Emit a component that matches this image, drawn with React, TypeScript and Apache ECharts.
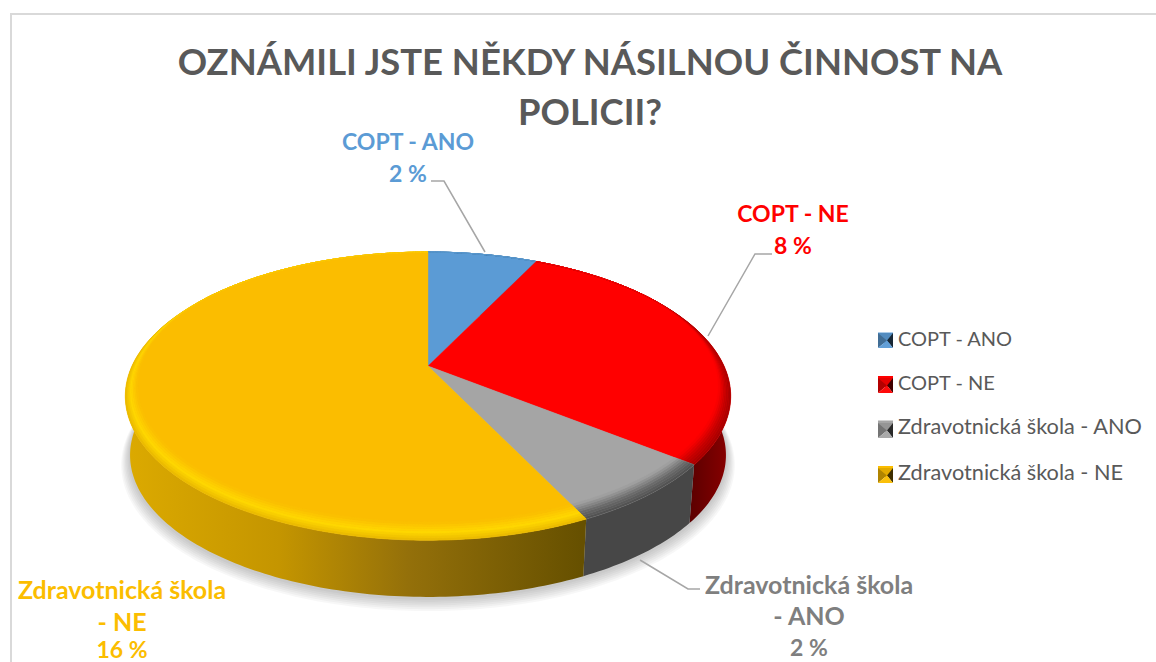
import React, { useEffect, useRef } from "react";
import * as echarts from "echarts";

const titleLines = ["OZNÁMILI JSTE NĚKDY NÁSILNOU ČINNOST NA", "POLICII?"];
const categories = ["COPT - ANO", "COPT - NE", "Zdravotnická škola - ANO", "Zdravotnická škola - NE"];
const percentValues = [2, 8, 2, 16];
const labelLines = [["COPT - ANO"], ["COPT - NE"], ["Zdravotnická škola", "- ANO"], ["Zdravotnická škola", "- NE"]];
const faceColors = ["#5b9bd5", "#ff0000", "#a5a5a5", "#fbbd00"];
const labelColors = ["#5b9bd5", "#ff0000", "#7f7f7f", "#fbbd00"];
const bevelMid = ["#4d86ba", "#c40000", "#6c6c6c", "#ffd800"];
const bevelEdge = ["#3f6f9c", "#a20000", "#4f4f4f", "#e8b800"];

const FONT = "Lato, Carlito, Calibri, sans-serif";
const total = percentValues.reduce((a, b) => a + b, 0);
const AX = 428, AY = 366, R = 296, H = 137.8, K = 0.209, DEPTH = 60, BOTTOM_SCALE = 0.985;

function rim(deg: number, s: number, dy = 0): number[] {
  const a = (deg * Math.PI) / 180;
  const u = s * Math.sin(a), v = -s * Math.cos(a);
  const d = 1 - K * v;
  return [AX + (R * u) / d, AY + (H * v) / d + dy];
}
function bevelScale(deg: number, f: number) {
  const v = -Math.cos((deg * Math.PI) / 180);
  return 1 - f * Math.max(0, 0.03 + 0.055 * v);
}
function arcPts(a0: number, a1: number, fn: (d: number) => number[]) {
  const pts: number[][] = [];
  const n = Math.max(2, Math.ceil(Math.abs(a1 - a0)));
  for (let i = 0; i <= n; i++) pts.push(fn(a0 + ((a1 - a0) * i) / n));
  return pts;
}
function angleRange(idx: number, value: number) {
  const before = percentValues.slice(0, idx).reduce((a, b) => a + b, 0);
  return [(before / total) * 360, ((before + value) / total) * 360];
}
function mix(c1: string, c2: string, t: number) {
  const p = (c: string) => [1, 3, 5].map((i) => parseInt(c.slice(i, i + 2), 16));
  const a = p(c1), b = p(c2);
  return `rgb(${a.map((x, i) => Math.round(x + (b[i] - x) * t)).join(",")})`;
}
function wallFill(idx: number) {
  const G = echarts.graphic.LinearGradient as any;
  if (idx === 3)
    return new G(124, 0, 582, 0, [
      { offset: 0, color: "#dcaa00" },
      { offset: 0.34, color: "#c49500" },
      { offset: 0.62, color: "#94700a" },
      { offset: 1, color: "#665000" },
    ], true);
  if (idx === 1)
    return new G(685, 0, 730, 0, [
      { offset: 0, color: "#560000" },
      { offset: 1, color: "#8a0000" },
    ], true);
  if (idx === 2) return "#474747";
  return "#3f6f9c";
}

function renderWalls(params: any, api: any) {
  const idx = params.dataIndex;
  const [a0, a1] = angleRange(idx, api.value(0));
  const top = arcPts(a0, a1, (d) => rim(d, 1));
  const bottom = arcPts(a1, a0, (d) => rim(d, BOTTOM_SCALE, DEPTH));
  const children: any[] = [];
  if (idx === 0) {
    for (let i = 7; i >= 1; i--) {
      children.push({
        type: "polygon",
        shape: { points: arcPts(0, 360, (d) => rim(d, BOTTOM_SCALE + i * 0.004, DEPTH + 1 + i)) },
        style: { fill: "rgba(0,0,0,0.03)" },
      });
    }
  }
  children.push({ type: "polygon", shape: { points: top.concat(bottom) }, style: { fill: wallFill(idx) } });
  return { type: "group", children };
}

function renderFace(idx: number) {
  return (_params: any, api: any) => {
    const [a0, a1] = angleRange(idx, api.value(0));
    const children: any[] = [];
    children.push({
      type: "polygon",
      shape: { points: [[AX, AY]].concat(arcPts(a0, a1, (d) => rim(d, 1))) },
      style: { fill: faceColors[idx], stroke: faceColors[idx], lineWidth: 0.4 },
    });
    const STRIPS = 8;
    for (let i = 0; i < STRIPS; i++) {
      const f0 = i / STRIPS, f1 = (i + 1) / STRIPS, fc = (i + 0.5) / STRIPS;
      const color = fc < 0.45
        ? mix(bevelEdge[idx], bevelMid[idx], fc / 0.45)
        : mix(bevelMid[idx], faceColors[idx], (fc - 0.45) / 0.55);
      const outer = arcPts(a0, a1, (d) => rim(d, bevelScale(d, f0)));
      const inner = arcPts(a1, a0, (d) => rim(d, bevelScale(d, f1)));
      children.push({
        type: "polygon",
        shape: { points: outer.concat(inner) },
        style: { fill: color, stroke: color, lineWidth: 0.4 },
      });
    }
    return { type: "group", children };
  };
}

const LEGEND_X = 878, LEGEND_YS = [333, 378, 423, 468], ICON = 15;

function legendIcons() {
  const out: any[] = [];
  LEGEND_YS.forEach((y, i) => {
    const c = faceColors[i];
    const x0 = LEGEND_X, x1 = x0 + ICON, y1 = y + ICON;
    const m = [x0 + ICON / 2 + 1.5, y + ICON / 2];
    const tri = (a: number[], b: number[], col: string) => ({
      type: "polygon", z: 20, shape: { points: [a, b, m] }, style: { fill: col },
    });
    out.push(tri([x0, y], [x1, y], mix(c, "#000000", 0.1)));
    out.push(tri([x0, y], [x0, y1], mix(c, "#000000", 0.3)));
    out.push(tri([x1, y], [x1, y1], mix(c, "#000000", 0.75)));
    out.push(tri([x0, y1], [x1, y1], mix(c, "#ffffff", 0.04)));
  });
  return out;
}

const labelCenters = [[408, 157], [793, 229], [809, 615.5], [122, 617]];
const leaderLines = [
  [[431, 181], [444, 181], [485, 252]],
  [[772, 254], [755, 254], [708, 336]],
  [[700, 589], [688, 589], [640, 560]],
];

export default function App() {
  const ref = useRef<HTMLDivElement>(null);
  useEffect(() => {
    const chart = echarts.init(ref.current!, undefined, { renderer: "svg" });
    const labelGraphics = categories.map((_, i) => {
      const style = labelLines[i][0].startsWith("COPT") ? "s" : "w";
      const last = i === 3 ? "p" : "s";
      const text = labelLines[i].map((l) => `{${style}|${l}}`).concat([`{${last}|${percentValues[i]} %}`]).join("\n");
      return {
        type: "text",
        x: labelCenters[i][0],
        y: labelCenters[i][1],
        z: 20,
        style: {
          text,
          fill: labelColors[i],
          align: "center",
          verticalAlign: "middle",
          rich: {
            s: { fill: labelColors[i], font: `700 23px ${FONT}`, lineHeight: 32 },
            p: { fill: labelColors[i], font: `700 23px ${FONT}`, lineHeight: 24 },
            w: { fill: labelColors[i], font: `700 25px ${FONT}`, lineHeight: i === 3 ? 32 : 31 },
          },
        },
      };
    });
    const lineGraphics = leaderLines.map((pts) => ({
      type: "polyline",
      z: 20,
      shape: { points: pts },
      style: { stroke: "#a6a6a6", lineWidth: 1.5, fill: "none" },
    }));
    chart.setOption({
      animation: false,
      backgroundColor: "#ffffff",
      title: {
        text: titleLines.join("\n"),
        left: 585,
        top: 31,
        textAlign: "center",
        textStyle: { fontFamily: FONT, fontWeight: 700, fontSize: 36.4, color: "#595959", lineHeight: 50 },
      },
      legend: {
        data: categories,
        orient: "vertical",
        left: LEGEND_X,
        top: LEGEND_YS[0] - 5,
        padding: 0,
        itemWidth: ICON,
        itemHeight: 11,
        itemGap: 23.5,
        icon: "rect",
        selectedMode: false,
        formatter: (name: string) => (name.startsWith("COPT") ? `{a|${name}}` : `{b|${name}}`),
        textStyle: {
          fontFamily: FONT,
          color: "#595959",
          rich: {
            a: { fontFamily: FONT, fontSize: 20, color: "#595959" },
            b: { fontFamily: FONT, fontSize: 21.7, color: "#595959" },
          },
        },
      },
      graphic: [
        {
          type: "polyline",
          z: 0,
          shape: { points: [[11, 670], [11, 14], [1160, 14]] },
          style: { stroke: "#d9d9d9", lineWidth: 2, fill: "none" },
        },
        ...lineGraphics,
        ...labelGraphics,
        ...legendIcons(),
      ],
      series: [
        {
          type: "custom",
          name: "boky",
          coordinateSystem: "none",
          z: 1,
          silent: true,
          renderItem: renderWalls,
          data: percentValues.map((v) => [v]),
        },
        ...categories.map((name, i) => ({
          type: "custom",
          name,
          coordinateSystem: "none",
          z: 2,
          silent: true,
          itemStyle: { color: faceColors[i] },
          renderItem: renderFace(i),
          data: [[percentValues[i]]],
        })),
      ],
    });
    return () => chart.dispose();
  }, []);
  return <div ref={ref} style={{ position: "fixed", left: 0, top: 0, width: 1156, height: 662 }} />;
}
